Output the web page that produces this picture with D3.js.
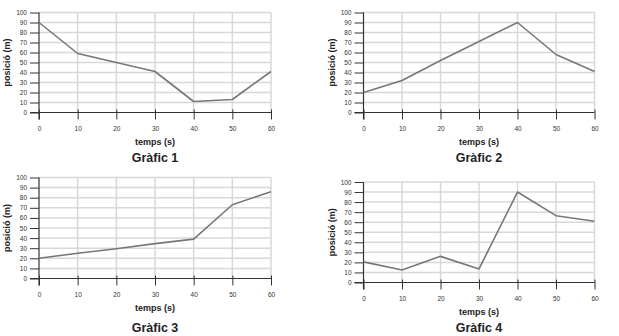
<!DOCTYPE html>
<html><head><meta charset="utf-8">
<script src="https://cdn.jsdelivr.net/npm/d3@7"></script>
<style>
body{margin:0;background:#fff;}
svg{display:block;font-family:"Liberation Sans",Arial,Helvetica,sans-serif;}
</style></head>
<body>
<svg id="c" width="619" height="336"></svg>
<script>
const times = [0, 10, 20, 30, 40, 50, 60];
const yTicks = [0, 10, 20, 30, 40, 50, 60, 70, 80, 90, 100];
const graph1 = [90, 59, 50, 41, 11, 13, 41];
const graph2 = [20, 32, 52, 71, 90, 58, 41];
const graph3 = [20, 25, 29.5, 34.5, 39, 73, 86];
const graph4 = [20.5, 12.5, 26, 13.5, 90, 66.5, 61];
const titles = ["Gràfic 1", "Gràfic 2", "Gràfic 3", "Gràfic 4"];
const xTitle = "temps (s)";
const yTitle = "posició (m)";

const panels = [
  {data: graph1, title: titles[0], l: 39, r: 271, t: 12.5, b: 112.5, ty: 157},
  {data: graph2, title: titles[1], l: 363.5, r: 594.5, t: 12.5, b: 112.5, ty: 157},
  {data: graph3, title: titles[2], l: 39, r: 271, t: 177.5, b: 278.5, ty: 327.5},
  {data: graph4, title: titles[3], l: 363.5, r: 594.5, t: 182, b: 282.5, ty: 327.5}
];

const svg = d3.select("#c");

panels.forEach(p => {
  const x = d3.scaleLinear().domain([0, 60]).range([p.l, p.r]);
  const y = d3.scaleLinear().domain([0, 100]).range([p.b, p.t]);
  const g = svg.append("g");

  // grid
  const grid = g.append("g");
  grid.selectAll("line.gy").data(yTicks.slice(1)).join("line")
    .attr("x1", p.l).attr("x2", p.r)
    .attr("y1", d => y(d)).attr("y2", d => y(d))
    .attr("stroke", "#d8d8d8").attr("stroke-width", 1.5);
  grid.selectAll("line.gx").data(times.slice(1)).join("line")
    .attr("x1", d => x(d)).attr("x2", d => x(d))
    .attr("y1", p.t).attr("y2", p.b)
    .attr("stroke", "#d8d8d8").attr("stroke-width", 1.5);

  // y axis
  const ya = g.append("g").attr("transform", `translate(${p.l},0)`)
    .call(d3.axisLeft(y).tickValues(yTicks).tickSize(9).tickPadding(3).tickSizeOuter(0));
  ya.select(".domain").remove();
  ya.selectAll(".tick line").attr("stroke", "#333").attr("stroke-width", 1);
  ya.selectAll(".tick text").attr("fill", "#333").style("font-size", "6.5px");
  ya.append("line").attr("x1", 0).attr("x2", 0).attr("y1", p.t).attr("y2", p.b + 7)
    .attr("stroke", "#333").attr("stroke-width", 1.2);

  // x axis
  const xa = g.append("g").attr("transform", `translate(0,${p.b})`)
    .call(d3.axisBottom(x).tickValues(times).tickSize(7).tickPadding(7).tickSizeOuter(0));
  xa.select(".domain").remove();
  xa.selectAll(".tick line").attr("y1", -3).attr("stroke", "#333").attr("stroke-width", 1);
  xa.selectAll(".tick text").attr("fill", "#333").style("font-size", "6.5px");
  xa.append("line").attr("x1", p.l - 9).attr("x2", p.r).attr("y1", 0).attr("y2", 0)
    .attr("stroke", "#333").attr("stroke-width", 1.2);

  // data line
  const pts = times.map((t, i) => [t, p.data[i]]);
  g.append("path").datum(pts)
    .attr("fill", "none").attr("stroke", "#777").attr("stroke-width", 1.6)
    .attr("stroke-linejoin", "round")
    .attr("d", d3.line().x(d => x(d[0])).y(d => y(d[1])));

  // titles
  const cx = (p.l + p.r) / 2;
  g.append("text").attr("x", cx).attr("y", p.b + 32.5)
    .attr("text-anchor", "middle").attr("font-weight", "bold")
    .attr("font-size", 9).attr("fill", "#222").text(xTitle);
  g.append("text").attr("x", cx).attr("y", p.ty + 4.5)
    .attr("text-anchor", "middle").attr("font-weight", "bold")
    .attr("font-size", 12.5).attr("fill", "#222").text(p.title);
  const cy = (p.t + p.b) / 2;
  g.append("text").attr("transform", `translate(${p.l - 29},${cy}) rotate(-90)`)
    .attr("text-anchor", "middle").attr("font-weight", "bold")
    .attr("font-size", 9).attr("fill", "#222").text(yTitle);
});
</script>
</body></html>
